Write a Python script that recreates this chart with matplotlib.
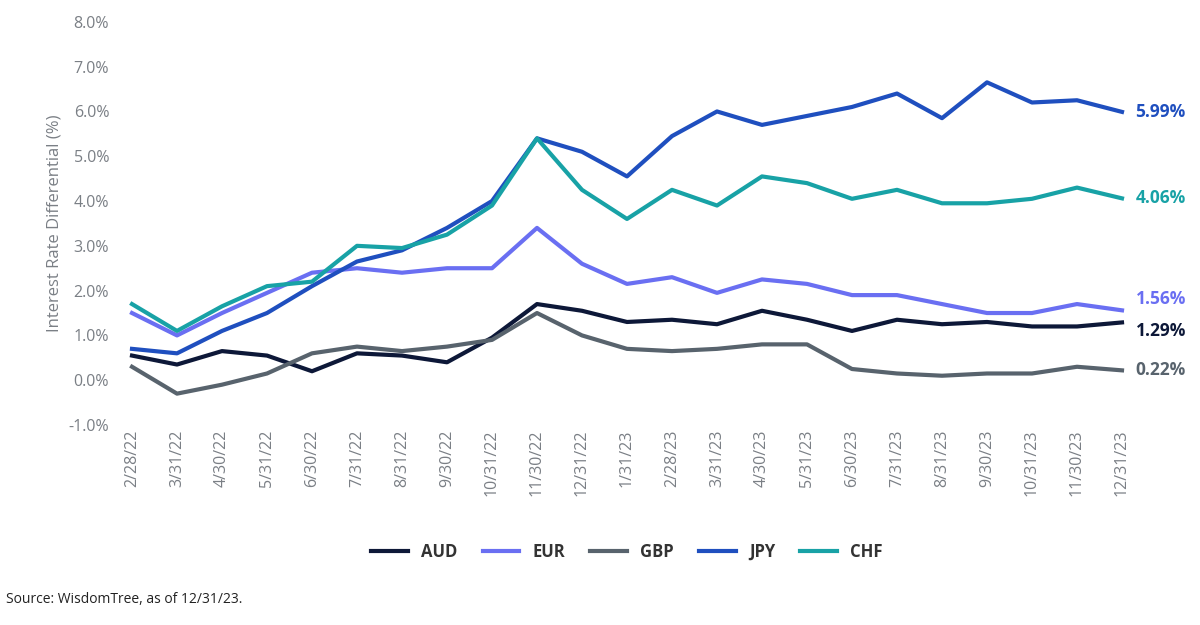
import matplotlib
matplotlib.use("Agg")
import matplotlib.pyplot as plt

dates = ["2/28/22","3/31/22","4/30/22","5/31/22","6/30/22","7/31/22","8/31/22","9/30/22",
         "10/31/22","11/30/22","12/31/22","1/31/23","2/28/23","3/31/23","4/30/23","5/31/23",
         "6/30/23","7/31/23","8/31/23","9/30/23","10/31/23","11/30/23","12/31/23"]
aud = [0.55,0.35,0.65,0.55,0.2,0.6,0.55,0.4,0.95,1.7,1.55,1.3,1.35,1.25,1.55,1.35,1.1,1.35,1.25,1.3,1.2,1.2,1.29]
eur = [1.5,1.0,1.5,1.95,2.4,2.5,2.4,2.5,2.5,3.4,2.6,2.15,2.3,1.95,2.25,2.15,1.9,1.9,1.7,1.5,1.5,1.7,1.56]
gbp = [0.3,-0.3,-0.1,0.15,0.6,0.75,0.65,0.75,0.9,1.5,1.0,0.7,0.65,0.7,0.8,0.8,0.25,0.15,0.1,0.15,0.15,0.3,0.22]
jpy = [0.7,0.6,1.1,1.5,2.1,2.65,2.9,3.4,4.0,5.4,5.1,4.55,5.45,6.0,5.7,5.9,6.1,6.4,5.85,6.65,6.2,6.25,5.99]
chf = [1.7,1.1,1.65,2.1,2.2,3.0,2.95,3.25,3.9,5.4,4.25,3.6,4.25,3.9,4.55,4.4,4.05,4.25,3.95,3.95,4.05,4.3,4.06]

# label nudges so the end labels don't collide
series = [("AUD", aud, "#0d1838", -0.2), ("EUR", eur, "#6a6ff2", 0.25), ("GBP", gbp, "#58636d", 0),
          ("JPY", jpy, "#1f4fbf", 0), ("CHF", chf, "#18a2a6", 0)]

plt.rcParams['font.family'] = ['Open Sans', 'DejaVu Sans']
fig = plt.figure(figsize=(12, 6.25), dpi=100)
ax = fig.add_axes([0.095, 0.32, 0.855, 0.645])
x = list(range(len(dates)))
for name, vals, col, dy in series:
    ax.plot(x, vals, color=col, lw=3, label=name)
    ax.text(x[-1] + 0.3, vals[-1] + dy, "%.2f%%" % vals[-1], color=col, fontsize=12.5,
            fontweight="bold", va="center", ha="left")

ax.set_ylim(-1, 8)
ax.set_yticks(range(-1, 9))
ax.set_yticklabels(["%.1f%%" % v for v in range(-1, 9)])
ax.set_xlim(-0.4, len(dates) - 0.6)
ax.set_xticks(x)
ax.set_xticklabels(dates, rotation=90)
ax.tick_params(colors="#7a7f85", labelsize=11.5, length=0)
ax.set_ylabel("Interest Rate Differential (%)", color="#7a7f85", fontsize=12)
for s in ax.spines.values():
    s.set_visible(False)

leg = ax.legend(loc="upper center", bbox_to_anchor=(0.5, -0.255), ncol=5, frameon=False,
                fontsize=12, handlelength=2.2, columnspacing=1.5)
for t in leg.get_texts():
    t.set_fontweight("bold")
    t.set_color("#333333")
for l in leg.get_lines():
    l.set_linewidth(3)

fig.text(0.005, 0.035, "Source: WisdomTree, as of 12/31/23.", fontsize=10, color="#222222")
fig.savefig("out.png")
